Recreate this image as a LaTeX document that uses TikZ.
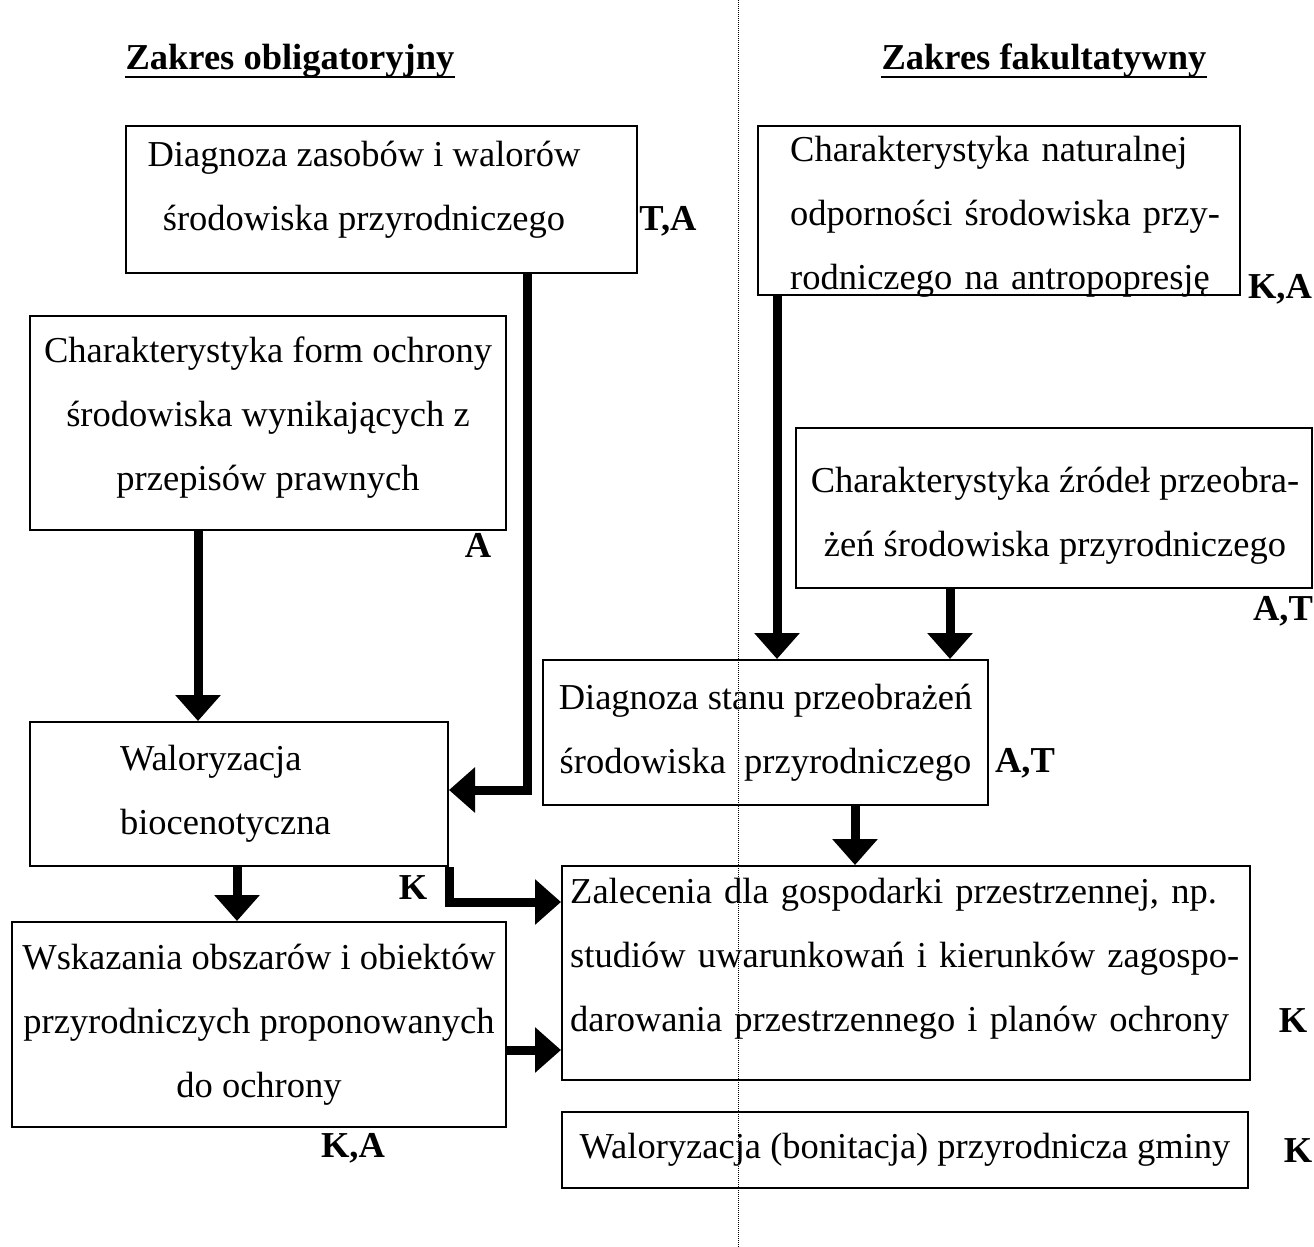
\documentclass[tikz,border=0pt]{standalone}
\usepackage{fontspec}
\setmainfont{Liberation Serif}
\usetikzlibrary{shapes,arrows,arrows.meta,positioning,calc}

\begin{document}
\begin{tikzpicture}[x=1pt, y=-1pt, font=\fontsize{36.5}{64}\selectfont]
  \tikzstyle{blok} = [rectangle, draw, line width=2pt, inner sep=0pt, align=center]
  \tikzstyle{tekst} = [inner sep=0pt, align=center]
  \tikzstyle{etykieta} = [font=\fontsize{36.5}{64}\selectfont\bfseries, inner sep=0pt, anchor=base]
  \tikzstyle{strzalka} = [line width=9pt, -{Triangle[length=26pt,width=44pt]}]
  \tikzstyle{podzial} = [densely dotted, line width=1pt]

  \useasboundingbox (0,0) rectangle (1314,1247);

  % naglowki
  \node[etykieta] (oblig) at (290,70) {Zakres obligatoryjny};
  \node[etykieta] (fakult) at (1044,70) {Zakres fakultatywny};
  \draw[line width=2pt] ([yshift=-7pt]oblig.base west) -- ([yshift=-7pt]oblig.base east);
  \draw[line width=2pt] ([yshift=-7pt]fakult.base west) -- ([yshift=-7pt]fakult.base east);

  % zakres obligatoryjny
  \node[blok, minimum width=511pt, minimum height=147pt] (zasoby) at (381.5,199.5) {};
  \node[tekst] (zasobyT) at (364,189.5) {Diagnoza zasobów i walorów\\ środowiska przyrodniczego};
  \node[blok, minimum width=476pt, minimum height=214pt] (formy) at (268,423) {};
  \node[tekst] (formyT) at (268,418)
    {Charakterystyka form ochrony\\ środowiska wynikających z\\ przepisów prawnych};
  \node[blok, align=left, text width=238pt, minimum width=418pt, minimum height=144pt] (walbio) at (239,794)
    {Waloryzacja\\ biocenotyczna};
  \node[blok, minimum width=494pt, minimum height=205pt] (wskaz) at (259,1024.5)
    {Wskazania obszarów i obiektów\\ przyrodniczych proponowanych\\ do ochrony};

  % zakres fakultatywny
  \node[blok, minimum width=482pt, minimum height=169pt] (odpor) at (999,210.5) {};
  \node[tekst, align=left, text width=432pt, anchor=west] (odporT) at (790,217)
    {Charakterystyka naturalnej\\ odporności środowiska przy-\\ rodniczego na antropopresję};
  \node[blok, minimum width=516pt, minimum height=160pt] (zrodla) at (1054,508) {};
  \node[tekst] (zrodlaT) at (1055,516) {Charakterystyka źródeł przeobra-\\ żeń środowiska przyrodniczego};
  \node[blok, minimum width=445pt, minimum height=145pt] (stan) at (765.5,732.5)
    {Diagnoza stanu przeobrażeń\\ środowiska\ \ przyrodniczego};
  \node[blok, minimum width=688pt, minimum height=214pt] (zalec) at (906,973) {};
  \node[tekst, align=left, text width=672pt, anchor=west] (zalecT) at (570,959)
    {Zalecenia dla gospodarki przestrzennej, np.\\ studiów uwarunkowań i kierunków zagospo-\\ darowania przestrzennego i planów ochrony};
  \node[blok, minimum width=686pt, minimum height=76pt] (bonit) at (905,1150)
    {Waloryzacja (bonitacja) przyrodnicza gminy};

  % oznaczenia
  \node[etykieta] (l1) at (668,230) {T,A};
  \node[etykieta] (l2) at (478,557) {A};
  \node[etykieta] (l3) at (413,899) {K};
  \node[etykieta] (l4) at (353,1157) {K,A};
  \node[etykieta] (l5) at (1280,298) {K,A};
  \node[etykieta] (l6) at (1283,620) {A,T};
  \node[etykieta] (l7) at (1025,772) {A,T};
  \node[etykieta] (l8) at (1293,1032) {K};
  \node[etykieta] (l9) at (1298,1162) {K};

  % strzalki
  \draw[strzalka] ([xshift=145.5pt]zasoby.south) |- ([yshift=4pt]walbio.east);
  \draw[strzalka] ([xshift=-70pt]formy.south) -- ([xshift=-70pt]formy.south |- walbio.north);
  \draw[strzalka] ([xshift=-2pt]walbio.south) -- ([xshift=-2pt]walbio.south |- wskaz.north);
  \draw[strzalka] (walbio.south east) |- ([yshift=71pt]zalec.west);
  \draw[strzalka] ([yshift=-25.5pt]wskaz.east) -- ([yshift=-25.5pt]wskaz.east -| zalec.west);
  \draw[strzalka] ([xshift=-222pt]odpor.south) -- ([xshift=-222pt]odpor.south |- stan.north);
  \draw[strzalka] ([xshift=-104pt]zrodla.south) -- ([xshift=-104pt]zrodla.south |- stan.north);
  \draw[strzalka] ([xshift=89.5pt]stan.south) -- ([xshift=89.5pt]stan.south |- zalec.north);

  % linia podzialu
  \coordinate (gora) at (738,0);
  \coordinate (dol) at (738,1247);
  \draw[podzial] (gora) -- (dol);
\end{tikzpicture}
\end{document}
